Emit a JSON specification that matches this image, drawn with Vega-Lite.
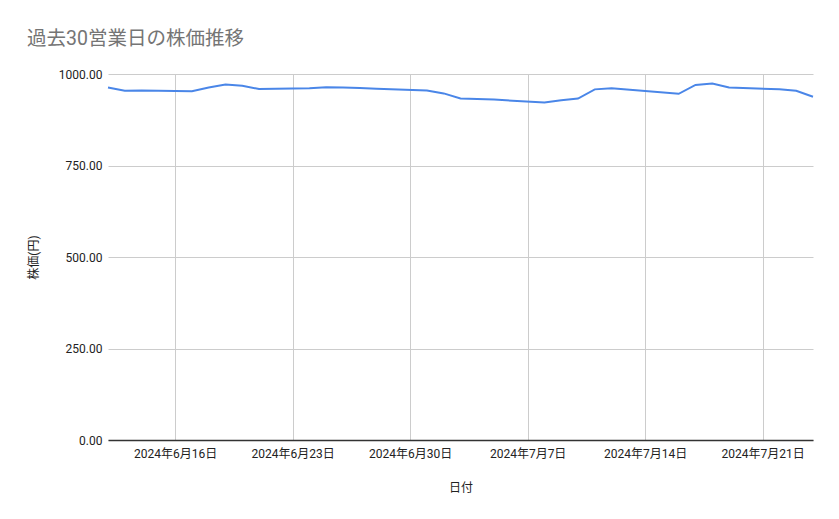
{
  "$schema": "https://vega.github.io/schema/vega-lite/v6.json",
  "autosize": "none",
  "width": 705,
  "height": 366,
  "padding": {"left": 108, "top": 74, "right": 26, "bottom": 79},
  "background": "white",
  "title": {
    "text": "過去30営業日の株価推移",
    "anchor": "start",
    "frame": "group",
    "dx": -81,
    "offset": 19,
    "fontSize": 19.5,
    "fontWeight": "normal",
    "color": "#757575",
    "font": "Roboto, Noto Sans CJK JP"
  },
  "config": {
    "view": {"stroke": null},
    "font": "Roboto, Noto Sans CJK JP"
  },
  "data": {
    "values": [
      {"date": "2024/06/12", "price": 963},
      {"date": "2024/06/13", "price": 954},
      {"date": "2024/06/14", "price": 955},
      {"date": "2024/06/17", "price": 953},
      {"date": "2024/06/18", "price": 963},
      {"date": "2024/06/19", "price": 971},
      {"date": "2024/06/20", "price": 968},
      {"date": "2024/06/21", "price": 959},
      {"date": "2024/06/24", "price": 961},
      {"date": "2024/06/25", "price": 964},
      {"date": "2024/06/26", "price": 963},
      {"date": "2024/06/27", "price": 962},
      {"date": "2024/06/28", "price": 960},
      {"date": "2024/07/01", "price": 955},
      {"date": "2024/07/02", "price": 947},
      {"date": "2024/07/03", "price": 933},
      {"date": "2024/07/04", "price": 932},
      {"date": "2024/07/05", "price": 930},
      {"date": "2024/07/08", "price": 922},
      {"date": "2024/07/09", "price": 928},
      {"date": "2024/07/10", "price": 933},
      {"date": "2024/07/11", "price": 958},
      {"date": "2024/07/12", "price": 961},
      {"date": "2024/07/16", "price": 946},
      {"date": "2024/07/17", "price": 970},
      {"date": "2024/07/18", "price": 974},
      {"date": "2024/07/19", "price": 963},
      {"date": "2024/07/22", "price": 958},
      {"date": "2024/07/23", "price": 954},
      {"date": "2024/07/24", "price": 938}
    ]
  },
  "mark": {"type": "line", "color": "#4a86e8", "strokeWidth": 2},
  "encoding": {
    "x": {
      "field": "date",
      "type": "temporal",
      "title": "日付",
      "scale": {
        "domain": [
          {"year": 2024, "month": 6, "date": 12},
          {"year": 2024, "month": 7, "date": 24}
        ]
      },
      "axis": {
        "values": [
          {"year": 2024, "month": 6, "date": 16},
          {"year": 2024, "month": 6, "date": 23},
          {"year": 2024, "month": 6, "date": 30},
          {"year": 2024, "month": 7, "date": 7},
          {"year": 2024, "month": 7, "date": 14},
          {"year": 2024, "month": 7, "date": 21}
        ],
        "format": "%Y年%-m月%-d日",
        "grid": true,
        "gridColor": "#cccccc",
        "ticks": false,
        "domainColor": "#333333",
        "domainWidth": 1.5,
        "labelFontSize": 12,
        "labelColor": "#222222",
        "labelPadding": 8,
        "labelFlush": false,
        "titleFontSize": 12,
        "titleFontWeight": "normal",
        "titleColor": "#222222",
        "titlePadding": 23
      }
    },
    "y": {
      "field": "price",
      "type": "quantitative",
      "title": "株価(円)",
      "scale": {"domain": [0, 1000], "nice": false},
      "axis": {
        "values": [0, 250, 500, 750, 1000],
        "format": ".2f",
        "grid": true,
        "gridColor": "#cccccc",
        "ticks": false,
        "domain": false,
        "labelFontSize": 12,
        "labelColor": "#222222",
        "labelPadding": 6,
        "titleFontSize": 12,
        "titleFontWeight": "normal",
        "titleColor": "#222222",
        "titlePadding": 18
      }
    }
  }
}
